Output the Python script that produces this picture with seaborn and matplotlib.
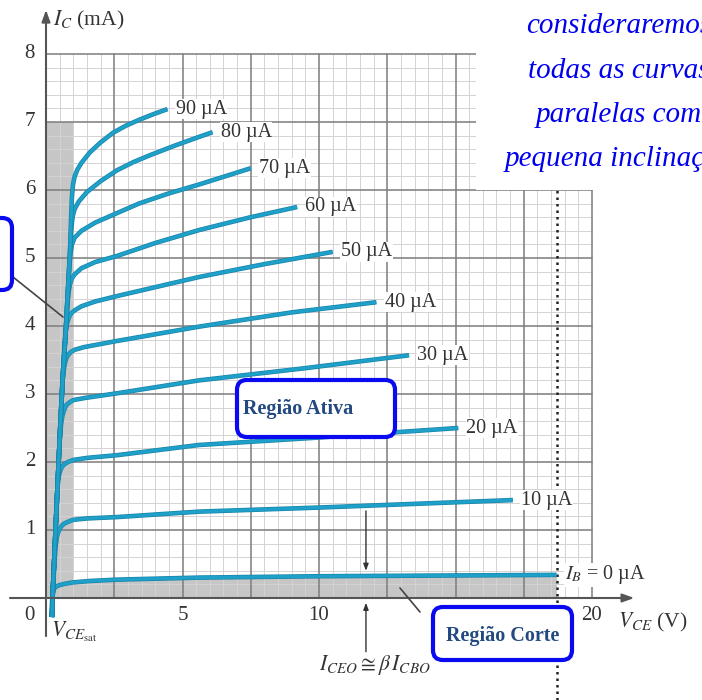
"""
BJT output characteristics (I_C vs V_CE) with saturation / active / cutoff regions.
"""

import numpy as np
import pandas as pd
import matplotlib
matplotlib.use('Agg')
import matplotlib.pyplot as plt
import matplotlib.patheffects as pe
from matplotlib.patches import FancyBboxPatch, Rectangle
import seaborn as sns

# base current of every curve (uA)
ib_levels = [0, 10, 20, 30, 40, 50, 60, 70, 80, 90]

# V_CE (V) and I_C (mA)
vce_0 = [0.20, 0.22, 0.25, 0.30, 0.38, 0.50, 0.70, 1.0, 1.6, 2.6, 5.6, 10.0, 18.7]
ic_0 = [-0.28, -0.05, 0.08, 0.14, 0.17, 0.19, 0.21, 0.23, 0.25, 0.27, 0.30, 0.32, 0.34]

vce_10 = [0.22, 0.25, 0.30, 0.35, 0.40, 0.47, 0.55, 0.65, 0.80, 1.0, 1.5, 2.6, 5.6, 10.0, 17.1]
ic_10 = [-0.28, 0.10, 0.45, 0.75, 0.90, 0.99, 1.05, 1.09, 1.12, 1.15, 1.17, 1.19, 1.27, 1.33, 1.44]

vce_20 = [0.22, 0.25, 0.35, 0.40, 0.45, 0.50, 0.57, 0.65, 0.80, 1.0, 1.5, 2.6, 5.6, 10.0, 15.1]
ic_20 = [-0.28, 0.10, 1.00, 1.50, 1.74, 1.85, 1.92, 1.96, 2.00, 2.03, 2.06, 2.10, 2.25, 2.36, 2.50]

vce_30 = [0.22, 0.25, 0.35, 0.44, 0.50, 0.55, 0.60, 0.67, 0.75, 0.87, 1.0, 1.4, 2.6, 5.6, 9.5, 13.3]
ic_30 = [-0.28, 0.10, 1.00, 1.80, 2.30, 2.55, 2.68, 2.77, 2.84, 2.88, 2.91, 2.94, 3.01, 3.20, 3.38, 3.57]

vce_40 = [0.22, 0.25, 0.35, 0.44, 0.52, 0.60, 0.64, 0.68, 0.74, 0.82, 0.92, 1.05, 1.4, 2.6, 5.6, 9.0, 12.1]
ic_40 = [-0.28, 0.10, 1.00, 1.80, 2.50, 3.15, 3.32, 3.43, 3.52, 3.58, 3.62, 3.65, 3.69, 3.78, 3.99, 4.20, 4.35]

vce_50 = [0.22, 0.25, 0.35, 0.44, 0.52, 0.62, 0.68, 0.72, 0.77, 0.84, 0.93, 1.05, 1.3, 1.8, 2.6, 5.6, 8.0, 10.5]
ic_50 = [-0.28, 0.10, 1.00, 1.80, 2.50, 3.30, 3.75, 3.92, 4.04, 4.13, 4.19, 4.23, 4.29, 4.36, 4.44, 4.72, 4.91, 5.09]

vce_60 = [0.22, 0.25, 0.35, 0.44, 0.52, 0.62, 0.72, 0.78, 0.83, 0.88, 0.95, 1.05, 1.3, 1.8, 2.6, 4.0,
          5.6, 7.5, 9.2]
ic_60 = [-0.28, 0.10, 1.00, 1.80, 2.50, 3.30, 3.90, 4.30, 4.50, 4.62, 4.70, 4.76, 4.85, 4.94, 5.03, 5.22,
         5.41, 5.60, 5.75]

vce_70 = [0.22, 0.25, 0.35, 0.44, 0.52, 0.62, 0.72, 0.80, 0.86, 0.90, 0.95, 1.05, 1.3, 1.8, 2.6, 3.4,
          4.5, 5.6, 7.5]
ic_70 = [-0.28, 0.10, 1.00, 1.80, 2.50, 3.30, 3.90, 4.50, 4.90, 5.08, 5.20, 5.30, 5.40, 5.52, 5.66, 5.80,
         5.95, 6.08, 6.32]

vce_80 = [0.22, 0.25, 0.35, 0.44, 0.52, 0.62, 0.72, 0.80, 0.88, 0.93, 0.98, 1.05, 1.2, 1.5, 2.0, 2.6,
          3.2, 3.8, 4.7, 5.6, 6.1]
ic_80 = [-0.28, 0.10, 1.00, 1.80, 2.50, 3.30, 3.90, 4.50, 5.10, 5.45, 5.62, 5.72, 5.83, 5.97, 6.13, 6.29,
         6.41, 6.51, 6.65, 6.78, 6.85]

vce_90 = [0.22, 0.25, 0.35, 0.44, 0.52, 0.62, 0.72, 0.80, 0.88, 0.92, 0.95, 0.99, 1.05, 1.15, 1.3, 1.6,
          2.0, 2.45, 2.9, 3.4, 3.9, 4.45]
ic_90 = [-0.28, 0.10, 1.00, 1.80, 2.50, 3.30, 3.90, 4.50, 5.10, 5.60, 5.90, 6.08, 6.20, 6.30, 6.40, 6.55,
         6.70, 6.84, 6.94, 7.03, 7.11, 7.19]

vce_curves = [vce_0, vce_10, vce_20, vce_30, vce_40, vce_50, vce_60, vce_70, vce_80, vce_90]
ic_curves = [ic_0, ic_10, ic_20, ic_30, ic_40, ic_50, ic_60, ic_70, ic_80, ic_90]

x_ticks = [0, 5, 10, 15, 20]
y_ticks = [1, 2, 3, 4, 5, 6, 7, 8]
vce_sat = 1.0          # edge of the saturation band (V)
sat_top = 7.0          # height of the saturation band (mA)

note_lines = ['consideraremos', 'todas as curvas', 'paralelas com', 'pequena inclinação']

# long table for seaborn
df = pd.concat([
    pd.DataFrame({'VCE': v, 'IC': i, 'IB': ib})
    for ib, v, i in zip(ib_levels, vce_curves, ic_curves)
], ignore_index=True)

sns.set_style('white')
plt.rcParams['font.family'] = ['Liberation Serif', 'DejaVu Serif']
plt.rcParams['mathtext.fontset'] = 'stix'

# pixel geometry of the page: origin at (46, 598), 27.3 px per V, 68 px per mA
W, H = 702, 700
X0, Y0, PXV, PXA = 46, 598, 27.3, 68

fig = plt.figure(figsize=(W / 100, H / 100), dpi=100)
ax = fig.add_axes([0, 0, 1, 1])
ax.set_xlim(-X0 / PXV, (W - X0) / PXV)
ax.set_ylim((Y0 - H) / PXA, Y0 / PXA)
ax.axis('off')


def fx(px):
    return px / W


def fy(py):
    return 1 - py / H


GRAY = '#c6c6c6'
xmax, ymax = x_ticks[-1], y_ticks[-1]

# shaded regions
ax.add_patch(Rectangle((0, 0), vce_sat, sat_top, color=GRAY, lw=0, zorder=0.5))
ib0_v = np.array(vce_0)
ib0_i = np.clip(np.array(ic_0), 0, None)
ax.fill_between(np.r_[0, ib0_v], 0, np.r_[0, ib0_i], color=GRAY, lw=0, zorder=0.5)

# graph-paper grid
for v in np.arange(0, xmax + 0.01, 0.5):
    major = abs(v / 2.5 - round(v / 2.5)) < 1e-6
    ax.plot([v, v], [0, ymax], color='#7c7c7c' if major else '#d6d2d4',
            lw=1.1 if major else 0.7, zorder=1 if major else 0.9)
for i in np.arange(0, ymax + 0.01, 0.2):
    major = abs(i - round(i)) < 1e-6
    ax.plot([0, xmax], [i, i], color='#7c7c7c' if major else '#d6d2d4',
            lw=1.1 if major else 0.7, zorder=1 if major else 0.9)

# dotted cutoff boundary
ax.plot([vce_0[-1], vce_0[-1]], [(Y0 - H) / PXA, ymax], color='#222222',
        lw=1.8, ls=(0, (1, 1.6)), zorder=2)

# white patch behind the note text
ax.add_patch(Rectangle((fx(476), fy(190)), 1, 1, transform=fig.transFigure,
                       facecolor='white', edgecolor='none', zorder=2.5))

# curves
sns.lineplot(data=df, x='VCE', y='IC', units='IB', estimator=None, sort=False,
             color='#1fa0c8', lw=2.3, ax=ax, zorder=3, legend=False)
for line in ax.lines[-len(ib_levels):]:
    line.set_path_effects([pe.Stroke(linewidth=3.3, foreground='#1784a8'), pe.Normal()])
    line.set_solid_capstyle('butt')
    line.set_solid_joinstyle('round')

# curve labels
for ib, v, i in zip(ib_levels, vce_curves, ic_curves):
    if ib == 0:
        txt = r'$I_B$ = 0 µA'
    else:
        txt = f'{ib} µA'
    ax.text(v[-1] + 0.3, i[-1], txt, ha='left', va='center', fontsize=14.5,
            color='#333333', zorder=4,
            bbox=dict(facecolor='white', edgecolor='none', pad=0.5))

# axes with arrows
axis_kw = dict(arrowstyle='-|>,head_length=0.7,head_width=0.25', color='#555555',
               lw=1.5, shrinkA=0, shrinkB=0)
ax.annotate('', xy=(21.55, 0), xytext=(-1.32, 0), arrowprops=axis_kw, zorder=4)
ax.annotate('', xy=(0, 8.65), xytext=(0, -0.56), arrowprops=axis_kw, zorder=4)

# tick labels
for t in y_ticks:
    ax.text(-0.59, t, str(t), ha='center', va='center', fontsize=15, color='#333333')
ax.text(-0.59, -0.25, '0', ha='center', va='center', fontsize=15, color='#333333')
for t in x_ticks[1:]:
    ax.text(t, -0.26, str(t), ha='center', va='center', fontsize=15, color='#333333')

ax.text(0.25, 8.5, r'$I_C$ (mA)', ha='left', va='center', fontsize=15.5, color='#333333')
ax.text(20.95, -0.36, r'$V_{CE}$ (V)', ha='left', va='center', fontsize=15.5, color='#333333')
ax.text(0.2, -0.5, r'$V_{CE_{\mathrm{sat}}}$', ha='left', va='center', fontsize=15.5,
        color='#333333')
ax.text(12.05, -0.98, r'$I_{CEO} \cong \beta\, I_{CBO}$', ha='center', va='center',
        fontsize=15.5, color='#333333')

# I_CEO arrows
arr_kw = dict(arrowstyle='-|>,head_length=0.4,head_width=0.15', color='#333333',
              lw=1.0, shrinkA=0, shrinkB=0)
ax.annotate('', xy=(11.72, 0.40), xytext=(11.72, 1.28), arrowprops=arr_kw)
ax.annotate('', xy=(11.72, -0.07), xytext=(11.72, -0.79), arrowprops=arr_kw)

# leader lines
ax.plot([fx(13), fx(63)], [fy(277), fy(317)], transform=fig.transFigure,
        color='#444444', lw=1.2, zorder=4)
ax.plot([fx(400), fx(420)], [fy(588), fy(612)], transform=fig.transFigure,
        color='#444444', lw=1.2, zorder=4)

# blue rounded boxes
def blue_box(x0, y0, x1, y1):
    box = FancyBboxPatch((fx(x0), fy(y1)), fx(x1 - x0), (y1 - y0) / H,
                         boxstyle='round,pad=0,rounding_size=0.014',
                         transform=fig.transFigure, facecolor='white',
                         edgecolor='#0a0af0', lw=3.0, zorder=6)
    fig.patches.append(box)


blue_box(-30, 218, 12, 290)
blue_box(237, 380, 395, 437)
blue_box(433, 607, 572, 660)
fig.text(fx(243), fy(409), 'Região Ativa', ha='left', va='center', fontsize=14.5,
         fontweight='bold', color='#234a80', zorder=7)
fig.text(fx(503), fy(636), 'Região Corte', ha='center', va='center', fontsize=14.5,
         fontweight='bold', color='#234a80', zorder=7)

# note at top right (runs off the right edge, as in the slide)
for k, line in enumerate(note_lines):
    fig.text(fx(619), fy(33 + 44.5 * k), line, ha='center', va='baseline',
             fontsize=21, style='italic', color='#0000ee', zorder=7)

fig.savefig('out.png', dpi=100)
plt.close(fig)
